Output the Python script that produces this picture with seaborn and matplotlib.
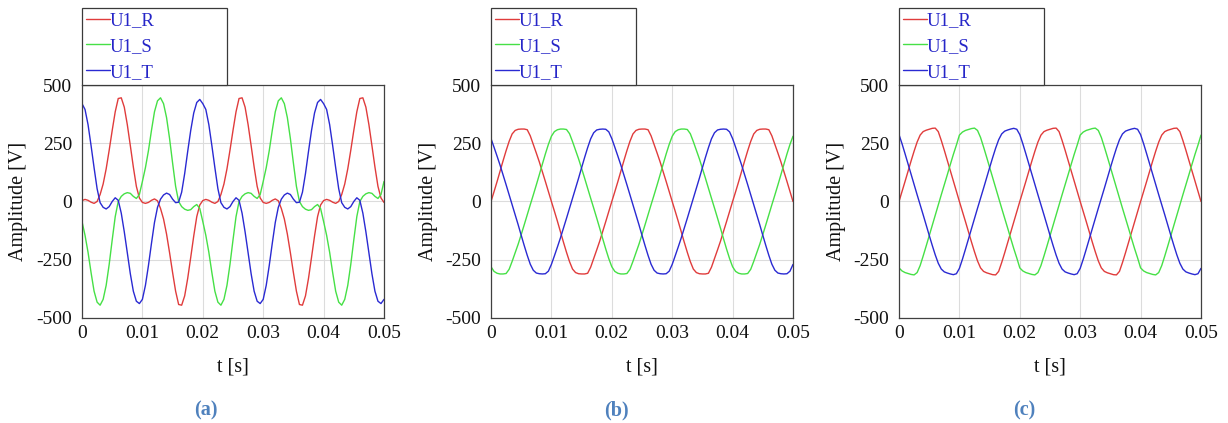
import numpy as np
import pandas as pd
import matplotlib
matplotlib.use("Agg")
import matplotlib.pyplot as plt
from matplotlib.ticker import MultipleLocator
import seaborn as sns

# sample times, every 0.5 ms from 0 to 50 ms
t_ms = np.arange(0, 50.5, 0.5)

# (a) distorted supply voltages [V]
ra = [4, 9, 5, -3, -8, 0, 30, 75, 140, 220, 305, 385, 442, 445, 405, 330, 240, 148, 65, 15,
      -4, -8, -4, 5, 11, 3, -30, -75, -140, -220, -305, -385, -442, -445, -405, -330, -240, -148, -65, -15,
      4, 9, 5, -3, -8, 0, 30, 75, 140, 220, 305, 385, 442, 445, 405, 330, 240, 148, 65, 15,
      -4, -8, -4, 5, 11, 3, -30, -75, -140, -220, -305, -385, -442, -445, -405, -330, -240, -148, -65, -15,
      4, 9, 5, -3, -8, 0, 30, 75, 140, 220, 305, 385, 442, 445, 405, 330, 240, 148, 65, 15,
      -4]
sa = [-86, -145, -218, -305, -385, -432, -445, -420, -360, -270, -165, -65, 0, 22, 33, 38, 35, 22, 13, 30,
      86, 145, 218, 305, 385, 432, 445, 420, 360, 270, 165, 65, 0, -22, -33, -38, -35, -22, -13, -30,
      -86, -145, -218, -305, -385, -432, -445, -420, -360, -270, -165, -65, 0, 22, 33, 38, 35, 22, 13, 30,
      86, 145, 218, 305, 385, 432, 445, 420, 360, 270, 165, 65, 0, -22, -33, -38, -35, -22, -13, -30,
      -86, -145, -218, -305, -385, -432, -445, -420, -360, -270, -165, -65, 0, 22, 33, 38, 35, 22, 13, 30,
      86]
ta = [420, 395, 330, 240, 145, 55, -5, -25, -32, -22, 0, 16, 5, -50, -130, -220, -310, -385, -428, -438,
      -420, -360, -275, -180, -90, -25, 10, 28, 36, 30, 10, -5, -3, 40, 120, 215, 305, 380, 425, 438,
      420, 395, 330, 240, 145, 55, -5, -25, -32, -22, 0, 16, 5, -50, -130, -220, -310, -385, -428, -438,
      -420, -360, -275, -180, -90, -25, 10, 28, 36, 30, 10, -5, -3, 40, 120, 215, 305, 380, 425, 438,
      420, 395, 330, 240, 145, 55, -5, -25, -32, -22, 0, 16, 5, -50, -130, -220, -310, -385, -428, -438,
      -420]

# (b)
rb = [0, 42, 85, 130, 175, 218, 258, 290, 305, 310, 311, 311, 308, 282, 245, 208, 170, 128, 86, 43,
      0, -42, -85, -130, -175, -218, -258, -290, -305, -310, -311, -311, -308, -282, -245, -208, -170, -128, -86, -43,
      0, 42, 85, 130, 175, 218, 258, 290, 305, 310, 311, 311, 308, 282, 245, 208, 170, 128, 86, 43,
      0, -42, -85, -130, -175, -218, -258, -290, -305, -310, -311, -311, -308, -282, -245, -208, -170, -128, -86, -43,
      0, 42, 85, 130, 175, 218, 258, 290, 305, 310, 311, 311, 308, 282, 245, 208, 170, 128, 86, 43,
      0]
sb = [-280, -300, -308, -311, -311, -309, -291, -257, -220, -183, -142, -100, -57, -14, 28, 71, 115, 160, 204, 245,
      280, 300, 308, 311, 311, 309, 291, 257, 220, 183, 142, 100, 57, 14, -28, -71, -115, -160, -204, -245,
      -280, -300, -308, -311, -311, -309, -291, -257, -220, -183, -142, -100, -57, -14, 28, 71, 115, 160, 204, 245,
      280, 300, 308, 311, 311, 309, 291, 257, 220, 183, 142, 100, 57, 14, -28, -71, -115, -160, -204, -245,
      -280, -300, -308, -311, -311, -309, -291, -257, -220, -183, -142, -100, -57, -14, 28, 71, 115, 160, 204, 245,
      280]
tb = [270, 233, 195, 156, 114, 72, 29, -14, -57, -100, -145, -189, -231, -269, -295, -307, -310, -311, -310, -299,
      -270, -233, -195, -156, -114, -72, -29, 14, 57, 100, 145, 189, 231, 269, 295, 307, 310, 311, 310, 299,
      270, 233, 195, 156, 114, 72, 29, -14, -57, -100, -145, -189, -231, -269, -295, -307, -310, -311, -310, -299,
      -270, -233, -195, -156, -114, -72, -29, 14, 57, 100, 145, 189, 231, 269, 295, 307, 310, 311, 310, 299,
      270, 233, 195, 156, 114, 72, 29, -14, -57, -100, -145, -189, -231, -269, -295, -307, -310, -311, -310, -299,
      -270]

# (c)
rc = [0, 43, 86, 130, 174, 216, 255, 285, 300, 306, 310, 314, 315, 300, 262, 220, 176, 132, 88, 44,
      0, -43, -86, -130, -174, -216, -255, -285, -300, -306, -310, -314, -315, -300, -262, -220, -176, -132, -88, -44,
      0, 43, 86, 130, 174, 216, 255, 285, 300, 306, 310, 314, 315, 300, 262, 220, 176, 132, 88, 44,
      0, -43, -86, -130, -174, -216, -255, -285, -300, -306, -310, -314, -315, -300, -262, -220, -176, -132, -88, -44,
      0, 43, 86, 130, 174, 216, 255, 285, 300, 306, 310, 314, 315, 300, 262, 220, 176, 132, 88, 44,
      0]
sc = [-285, -298, -305, -309, -313, -315, -305, -275, -234, -191, -147, -103, -59, -15, 29, 72, 115, 159, 202, 242,
      285, 298, 305, 309, 313, 315, 305, 275, 234, 191, 147, 103, 59, 15, -29, -72, -115, -159, -202, -242,
      -285, -298, -305, -309, -313, -315, -305, -275, -234, -191, -147, -103, -59, -15, 29, 72, 115, 159, 202, 242,
      285, 298, 305, 309, 313, 315, 305, 275, 234, 191, 147, 103, 59, 15, -29, -72, -115, -159, -202, -242,
      -285, -298, -305, -309, -313, -315, -305, -275, -234, -191, -147, -103, -59, -15, 29, 72, 115, 159, 202, 242,
      285]
tc = [287, 248, 205, 161, 117, 73, 29, -14, -57, -101, -145, -188, -229, -265, -290, -302, -307, -311, -314, -310,
      -287, -248, -205, -161, -117, -73, -29, 14, 57, 101, 145, 188, 229, 265, 290, 302, 307, 311, 314, 310,
      287, 248, 205, 161, 117, 73, 29, -14, -57, -101, -145, -188, -229, -265, -290, -302, -307, -311, -314, -310,
      -287, -248, -205, -161, -117, -73, -29, 14, 57, 101, 145, 188, 229, 265, 290, 302, 307, 311, 314, 310,
      287, 248, 205, 161, 117, 73, 29, -14, -57, -101, -145, -188, -229, -265, -290, -302, -307, -311, -314, -310,
      -287]

phases = ["U1_R", "U1_S", "U1_T"]
colors = ["#e03c3c", "#46e046", "#2a2ad2"]
panel_labels = ["(a)", "(b)", "(c)"]
x_ticks = [0, 0.01, 0.02, 0.03, 0.04, 0.05]
x_tick_labels = ["0", "0.01", "0.02", "0.03", "0.04", "0.05"]
y_ticks = [-500, -250, 0, 250, 500]
y_tick_labels = ["-500", "-250", "0", "250", "500"]

sns.set_style("white")
plt.rcParams["font.family"] = ["Liberation Serif", "DejaVu Serif"]
plt.rcParams["axes.unicode_minus"] = False

W, H = 1228, 423
fig = plt.figure(figsize=(W / 100, H / 100), dpi=100)

panels = [(ra, sa, ta), (rb, sb, tb), (rc, sc, tc)]
lefts = [82, 491, 899]
label_x = [206, 616, 1024]

for i, (r, s, t) in enumerate(panels):
    ax = fig.add_axes([lefts[i] / W, 1 - 318 / H, 302 / W, 233 / H])
    df = pd.DataFrame({
        "t": np.tile(t_ms / 1000, 3),
        "V": r + s + t,
        "phase": np.repeat(phases, len(t_ms)),
    })
    sns.lineplot(data=df, x="t", y="V", hue="phase", hue_order=phases,
                 palette=dict(zip(phases, colors)), linewidth=1.0,
                 errorbar=None, legend=False, ax=ax)

    ax.set_xlim(0, 0.05)
    ax.set_ylim(-500, 500)
    ax.set_xticks(x_ticks)
    ax.set_xticklabels(x_tick_labels)
    ax.set_yticks(y_ticks)
    ax.set_yticklabels(y_tick_labels)
    ax.xaxis.set_minor_locator(MultipleLocator(0.005))
    ax.yaxis.set_minor_locator(MultipleLocator(125))
    ax.set_xlabel("")
    ax.set_ylabel("")
    ax.grid(which="major", color="#dcdcdc", linewidth=0.8)
    ax.set_axisbelow(True)
    ax.tick_params(which="both", direction="inout", length=5, width=0.9,
                   color="#404040", labelsize=14, labelcolor="#111111")
    ax.tick_params(axis="x", pad=2.5)
    ax.tick_params(axis="y", pad=4.5)
    for sp in ax.spines.values():
        sp.set_color("#404040")
        sp.set_linewidth(0.9)

    leg = ax.legend(ax.lines[:3], phases, loc="lower left",
                    bbox_to_anchor=(0, 1, 145 / 302, 0), mode="expand",
                    borderaxespad=0, frameon=True, fancybox=False,
                    edgecolor="#3a3a3a", framealpha=1, handlelength=1.25,
                    handletextpad=0.0, labelspacing=0.46, borderpad=0.23,
                    prop={"family": "Liberation Serif", "size": 13.5},
                    labelcolor="#2626c8")
    leg.get_frame().set_linewidth(0.9)

    fig.text((lefts[i] - 63) / W, 1 - 201.5 / H, "Amplitude [V]", rotation=90,
             ha="center", va="center", fontsize=14.5, color="#111111")
    fig.text((lefts[i] + 151) / W, 1 - 367 / H, "t [s]", ha="center",
             va="center", fontsize=14.5, color="#111111")
    fig.text(label_x[i] / W, 1 - 410 / H, panel_labels[i], ha="center",
             va="center", fontsize=14.5, fontweight="bold", color="#4f81bd")

fig.savefig("out.png", dpi=100)
